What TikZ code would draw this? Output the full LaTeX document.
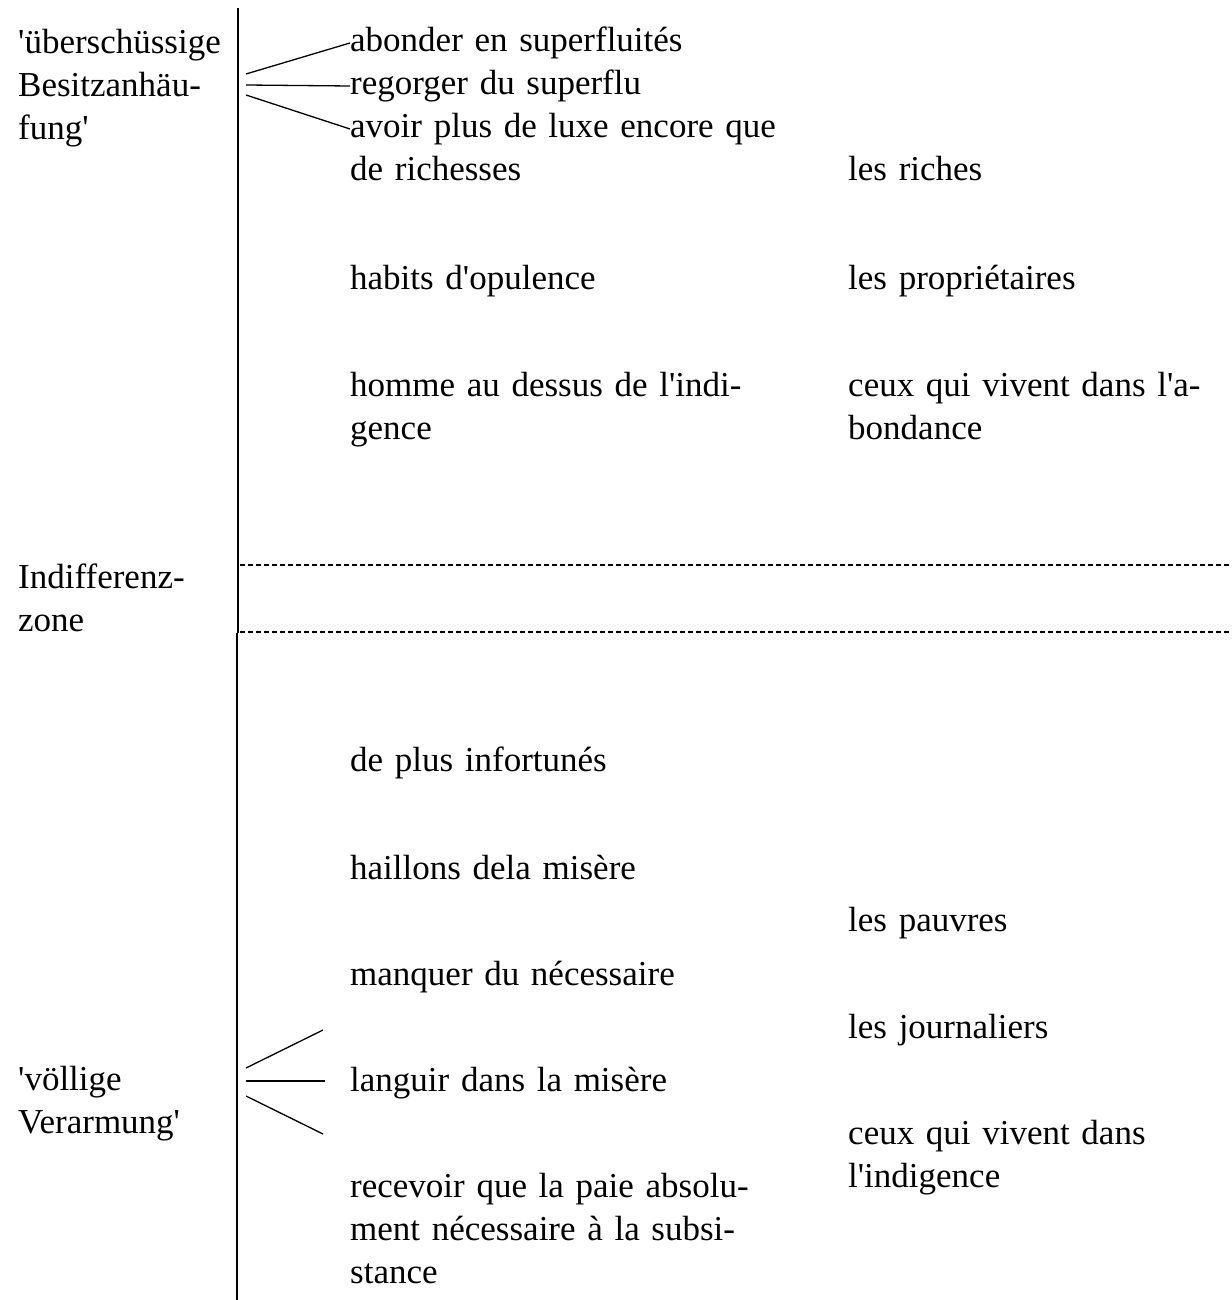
\documentclass[tikz,border=0pt]{standalone}
\usepackage{fontspec}
\setmainfont{Liberation Serif}[Ligatures=TeXOff]
\newcommand{\fullline}[2]{\makebox[#1][s]{#2}}

\begin{document}
\begin{tikzpicture}[
    x=1pt, y=-1pt,
    every node/.style={font={\fontsize{35}{43}\selectfont}, inner sep=0pt, anchor=base west, align=left},
    leftcol/.style={text width=215pt},
    midcol/.style={text width=422pt},
    rightcol/.style={text width=372pt},
    rule/.style={line width=1.9pt},
    zonesep/.style={line width=1.3pt, dash pattern=on 5pt off 3pt},
    fan/.style={line width=1.3pt}
]
    \useasboundingbox (0,0) rectangle (1231,1300);

    \node[leftcol] (surplus) at (18,54) {'überschüssige\\Besitzanhäu-\\fung'};
    \node[leftcol] (indiff) at (18,588) {Indifferenz-\\zone};
    \node[leftcol] (poverty) at (18,1090) {'völlige\\Verarmung'};

    \node[midcol] (abonder) at (350,52) {abonder en superfluités};
    \node[midcol] (regorger) at (350,95) {regorger du superflu};
    \node[midcol] (luxe) at (350,138) {\fullline{422pt}{avoir plus de luxe encore que}\\de richesses};
    \node[midcol] (habits) at (350,289) {habits d'opulence};
    \node[midcol] (homme) at (350,396) {\fullline{422pt}{homme au dessus de l'indi-}\\gence};
    \node[midcol] (infortunes) at (350,771) {de plus infortunés};
    \node[midcol] (haillons) at (350,879) {haillons dela misère};
    \node[midcol] (manquer) at (350,985) {manquer du nécessaire};
    \node[midcol] (languir) at (350,1091) {languir dans la misère};
    \node[midcol] (paie) at (350,1197) {\fullline{422pt}{recevoir que la paie absolu-}\\\fullline{422pt}{ment nécessaire à la subsi-}\\stance};

    \node[rightcol] (riches) at (848,181) {les riches};
    \node[rightcol] (proprietaires) at (848,289) {les propriétaires};
    \node[rightcol] (abondance) at (848,396) {\fullline{372pt}{ceux qui vivent dans l'a-}\\bondance};
    \node[rightcol] (pauvres) at (848,931) {les pauvres};
    \node[rightcol] (journaliers) at (848,1038) {les journaliers};
    \node[rightcol] (indigence) at (848,1144) {ceux qui vivent dans\\l'indigence};

    \coordinate (ruletop) at (238,8);
    \coordinate (rulemid) at (238,633);
    \coordinate (rulemid2) at (237,633);
    \coordinate (rulebot) at (237,1300);
    \draw[rule] (ruletop) -- (rulemid);
    \draw[rule] (rulemid2) -- (rulebot);

    \coordinate (sepA) at (240,565);
    \coordinate (sepAend) at (1231,565);
    \coordinate (sepB) at (240,632);
    \coordinate (sepBend) at (1231,632);
    \draw[zonesep] (sepA) -- (sepAend);
    \draw[zonesep] (sepB) -- (sepBend);

    \coordinate (fanup) at (246,74);
    \coordinate (fanmid) at (246,85);
    \coordinate (fanlow) at (246,95);
    \draw[fan] (fanup) -- ([yshift=9pt]abonder.base west);
    \draw[fan] (fanmid) -- ([yshift=9pt]regorger.base west);
    \draw[fan] (fanlow) -- ([yshift=9pt]luxe.base west);

    \coordinate (lowup) at (246,1068);
    \coordinate (lowupend) at (323,1030);
    \coordinate (lowmid) at (246,1081);
    \coordinate (lowmidend) at (325,1081);
    \coordinate (lowlow) at (246,1096);
    \coordinate (lowlowend) at (323,1134);
    \draw[fan] (lowup) -- (lowupend);
    \draw[fan] (lowmid) -- (lowmidend);
    \draw[fan] (lowlow) -- (lowlowend);
\end{tikzpicture}
\end{document}
